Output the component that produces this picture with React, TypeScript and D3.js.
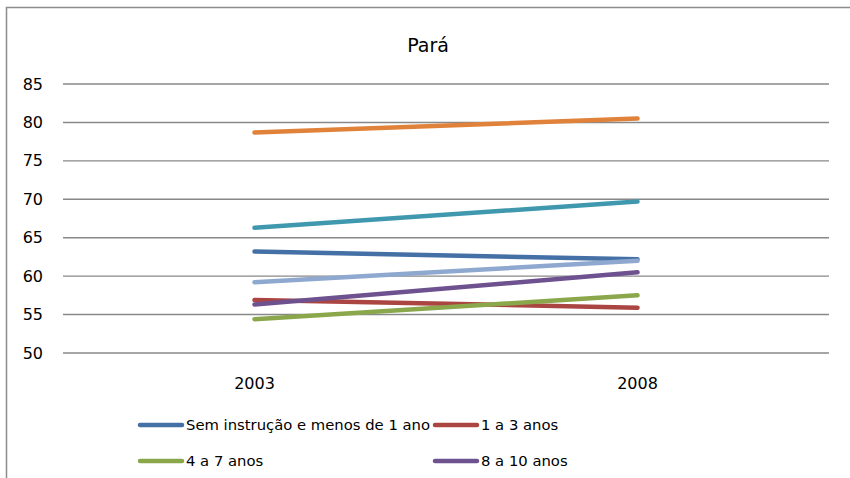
import * as d3 from "d3";
import React from "react";

const width = 850;
const height = 478;

const years = ["2003", "2008"];
const yTicks = [50, 55, 60, 65, 70, 75, 80, 85];

const seriesNames = [
  "Sem instrução e menos de 1 ano",
  "1 a 3 anos",
  "4 a 7 anos",
  "8 a 10 anos",
  "11 a 14 anos",
  "15 anos ou mais",
  "Total",
];
const seriesColors = ["#4470a6", "#aa4542", "#8aa84b", "#6d528f", "#3f98ae", "#e0823a", "#8ea8cf"];

const semInstrucao = [63.2, 62.2];
const umATres = [56.9, 55.9];
const quatroASete = [54.4, 57.5];
const oitoADez = [56.3, 60.5];
const onzeAQuatorze = [66.3, 69.7];
const quinzeOuMais = [78.7, 80.5];
const total = [59.2, 62.0];

const seriesValues = [semInstrucao, umATres, quatroASete, oitoADez, onzeAQuatorze, quinzeOuMais, total];

const plot = { left: 63, right: 829, top: 84, bottom: 353 };

const x = d3.scaleBand().domain(years).range([plot.left, plot.right]);
const y = d3.scaleLinear().domain([50, 85]).range([plot.bottom, plot.top]);

const line = d3
  .line<number>()
  .x((_, i) => (x(years[i]) as number) + x.bandwidth() / 2)
  .y((v) => y(v));

const font = "'DejaVu Sans', sans-serif";

// legend rows below the visible area are cut off in the original, so only the first two rows show
const legendItems = seriesNames
  .map((name, i) => ({
    name,
    color: seriesColors[i],
    lx: i % 2 === 0 ? 140 : 435,
    ly: 425 + Math.floor(i / 2) * 36,
  }))
  .filter((d) => d.ly < height - 8);

const App = () => {
  return (
    <svg
      width={width}
      height={height}
      style={{ position: "absolute", left: 0, top: 0, background: "#fff" }}
    >
      <rect x={6.5} y={7.5} width={900} height={520} fill="#fff" stroke="#8c8c8c" strokeWidth={1.5} />
      <text x={428} y={52} textAnchor="middle" fontFamily={font} fontSize={19} fill="#000">
        Pará
      </text>
      {yTicks.map((t) => (
        <g key={t}>
          <line x1={plot.left} x2={plot.right} y1={y(t)} y2={y(t)} stroke="#888" strokeWidth={1.4} />
          <text x={43} y={y(t)} dy="0.35em" textAnchor="end" fontFamily={font} fontSize={16} fill="#000">
            {t}
          </text>
        </g>
      ))}
      {years.map((yr) => (
        <text
          key={yr}
          x={(x(yr) as number) + x.bandwidth() / 2}
          y={383}
          dy="0.35em"
          textAnchor="middle"
          fontFamily={font}
          fontSize={16}
          fill="#000"
        >
          {yr}
        </text>
      ))}
      {seriesValues.map((vals, i) => (
        <path
          key={seriesNames[i]}
          d={line(vals) as string}
          fill="none"
          stroke={seriesColors[i]}
          strokeWidth={4.5}
          strokeLinecap="round"
        />
      ))}
      {legendItems.map((d) => (
        <g key={d.name}>
          <line x1={d.lx} x2={d.lx + 42} y1={d.ly} y2={d.ly} stroke={d.color} strokeWidth={4.5} strokeLinecap="round" />
          <text x={d.lx + 46} y={d.ly} dy="0.35em" fontFamily={font} fontSize={14.8} fill="#000">
            {d.name}
          </text>
        </g>
      ))}
    </svg>
  );
};

export default App;
